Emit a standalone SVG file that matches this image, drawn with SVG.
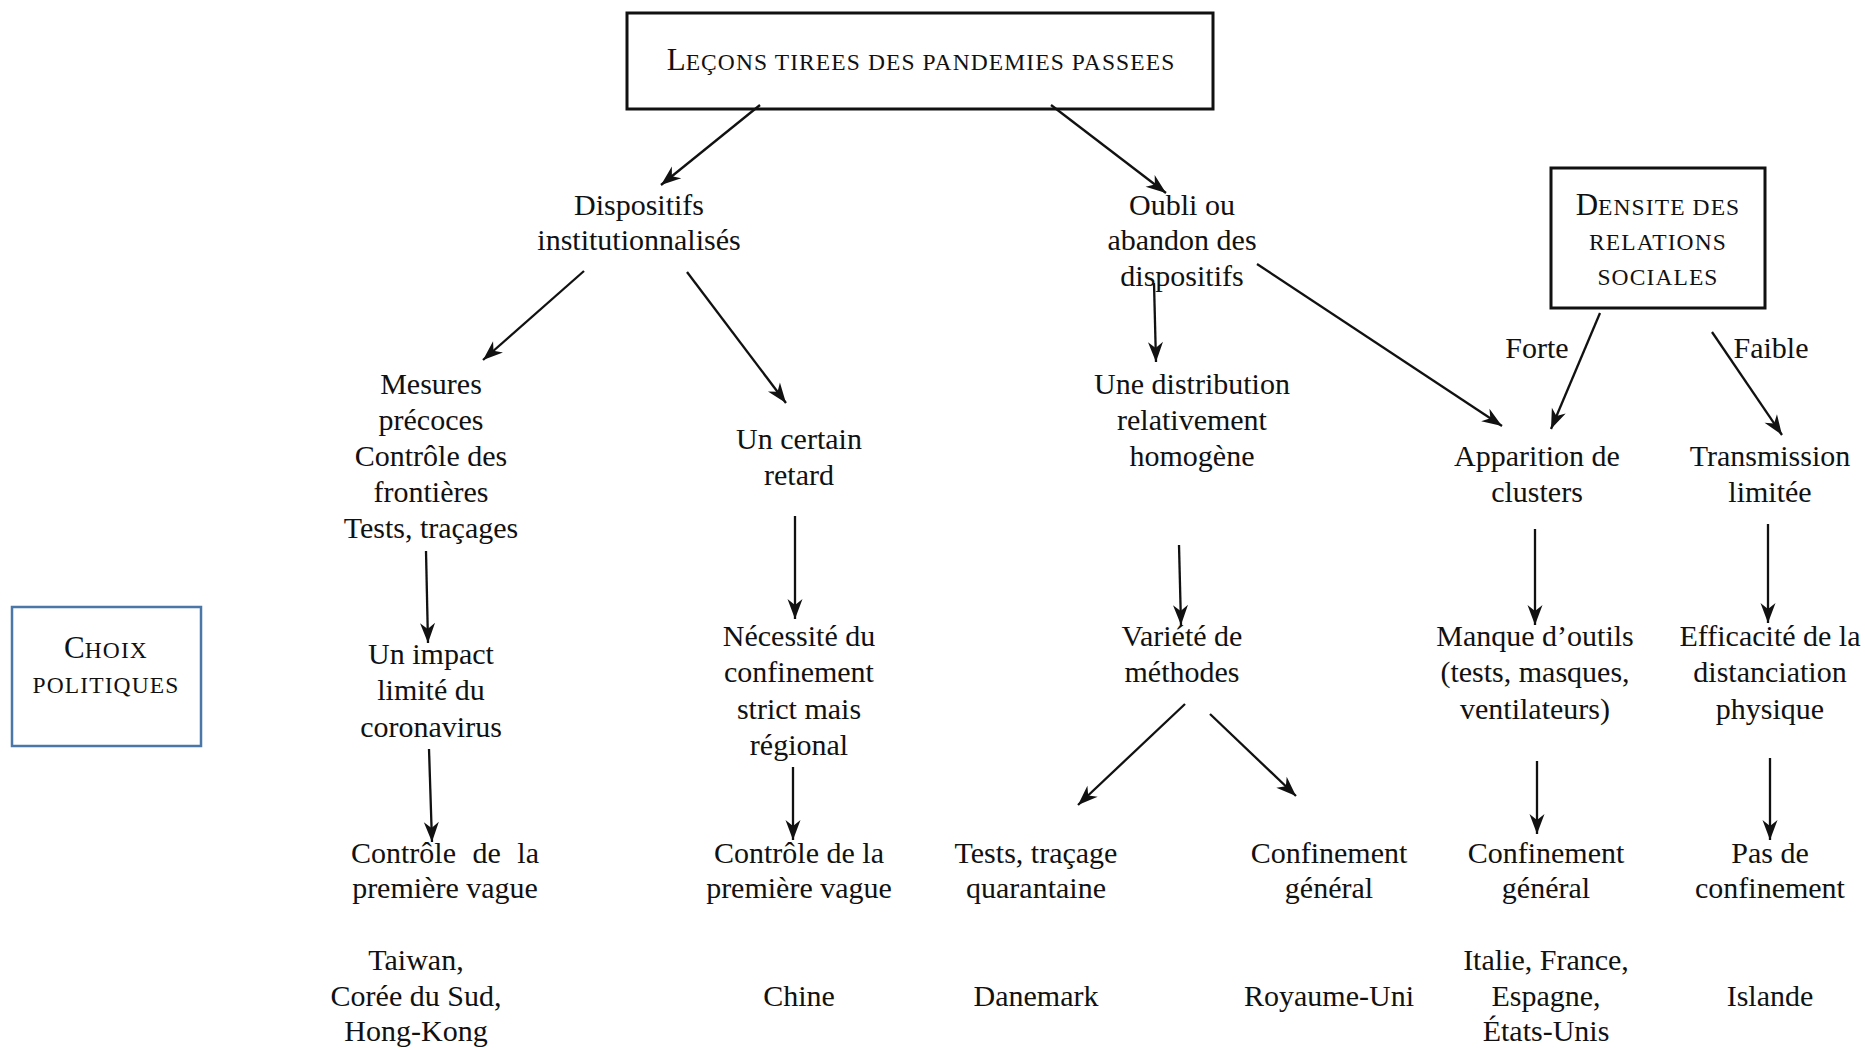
<svg xmlns="http://www.w3.org/2000/svg" width="1865" height="1048" viewBox="0 0 1865 1048">
<style>
text{font-family:"Liberation Serif","Times New Roman",serif;fill:#111;text-anchor:middle}
.t{font-size:30px}
.sc{font-size:23.5px;letter-spacing:1.1px}
.cap{font-size:31px}
.box{fill:#fff;stroke:#111;stroke-width:3}
.bbox{fill:#fff;stroke:#4a76a8;stroke-width:2.5}
.c line{stroke:#111;stroke-width:2.3;marker-end:url(#ah)}
</style>
<defs>
<marker id="ah" markerUnits="userSpaceOnUse" markerWidth="24" markerHeight="18" viewBox="0 -9 21 18" refX="20" refY="0" orient="auto">
<path d="M0,-7.5 L20,0 L0,7.5 L6,0 z" fill="#111"/>
</marker>
</defs>
<rect width="1865" height="1048" fill="#fff"/>

<g id="n-lecons">
<rect class="box" x="627" y="13" width="586" height="96"/>
<text x="921" y="70"><tspan class="cap">L</tspan><tspan class="sc">EÇONS TIREES DES PANDEMIES PASSEES</tspan></text>
</g>
<g id="n-dispositifs"><text class="t" x="639"><tspan x="639" y="215">Dispositifs</tspan><tspan x="639" y="250">institutionnalisés</tspan></text></g>
<g id="n-oubli"><text class="t"><tspan x="1182" y="215">Oubli ou</tspan><tspan x="1182" y="250">abandon des</tspan><tspan x="1182" y="286">dispositifs</tspan></text></g>
<g id="n-densite">
<rect class="box" x="1551" y="168" width="214" height="140"/>
<text><tspan x="1658" y="215"><tspan class="cap">D</tspan><tspan class="sc">ENSITE DES</tspan></tspan><tspan class="sc" x="1658" y="250">RELATIONS</tspan><tspan class="sc" x="1658" y="285">SOCIALES</tspan></text>
</g>
<g id="n-choix">
<rect class="bbox" x="12" y="607" width="189" height="139"/>
<text><tspan x="106" y="658"><tspan class="cap">C</tspan><tspan class="sc">HOIX</tspan></tspan><tspan class="sc" x="106" y="693">POLITIQUES</tspan></text>
</g>
<g id="n-mesures"><text class="t"><tspan x="431" y="394">Mesures</tspan><tspan x="431" y="430">précoces</tspan><tspan x="431" y="466">Contrôle des</tspan><tspan x="431" y="502">frontières</tspan><tspan x="431" y="538">Tests, traçages</tspan></text></g>
<g id="n-retard"><text class="t"><tspan x="799" y="449">Un certain</tspan><tspan x="799" y="485">retard</tspan></text></g>
<g id="n-distribution"><text class="t"><tspan x="1192" y="394">Une distribution</tspan><tspan x="1192" y="430">relativement</tspan><tspan x="1192" y="466">homogène</tspan></text></g>
<g id="n-apparition"><text class="t"><tspan x="1537" y="466">Apparition de</tspan><tspan x="1537" y="502">clusters</tspan></text></g>
<g id="n-transmission"><text class="t"><tspan x="1770" y="466">Transmission</tspan><tspan x="1770" y="502">limitée</tspan></text></g>
<g id="n-impact"><text class="t"><tspan x="431" y="664">Un impact</tspan><tspan x="431" y="700">limité du</tspan><tspan x="431" y="737">coronavirus</tspan></text></g>
<g id="n-necessite"><text class="t"><tspan x="799" y="646">Nécessité du</tspan><tspan x="799" y="682">confinement</tspan><tspan x="799" y="719">strict mais</tspan><tspan x="799" y="755">régional</tspan></text></g>
<g id="n-variete"><text class="t"><tspan x="1182" y="646">Variété de</tspan><tspan x="1182" y="682">méthodes</tspan></text></g>
<g id="n-manque"><text class="t"><tspan x="1535" y="646">Manque d’outils</tspan><tspan x="1535" y="682">(tests, masques,</tspan><tspan x="1535" y="719">ventilateurs)</tspan></text></g>
<g id="n-efficacite"><text class="t"><tspan x="1770" y="646">Efficacité de la</tspan><tspan x="1770" y="682">distanciation</tspan><tspan x="1770" y="719">physique</tspan></text></g>
<g id="n-controle1"><text class="t"><tspan x="445" y="863" word-spacing="9">Contrôle de la</tspan><tspan x="445" y="898">première vague</tspan></text></g>
<g id="n-controle2"><text class="t"><tspan x="799" y="863">Contrôle de la</tspan><tspan x="799" y="898">première vague</tspan></text></g>
<g id="n-tests"><text class="t"><tspan x="1036" y="863">Tests, traçage</tspan><tspan x="1036" y="898">quarantaine</tspan></text></g>
<g id="n-confinement1"><text class="t"><tspan x="1329" y="863">Confinement</tspan><tspan x="1329" y="898">général</tspan></text></g>
<g id="n-confinement2"><text class="t"><tspan x="1546" y="863">Confinement</tspan><tspan x="1546" y="898">général</tspan></text></g>
<g id="n-pasde"><text class="t"><tspan x="1770" y="863">Pas de</tspan><tspan x="1770" y="898">confinement</tspan></text></g>
<g id="n-taiwan"><text class="t"><tspan x="416" y="970">Taiwan,</tspan><tspan x="416" y="1006">Corée du Sud,</tspan><tspan x="416" y="1041">Hong-Kong</tspan></text></g>
<g id="n-chine"><text class="t" x="799" y="1006">Chine</text></g>
<g id="n-danemark"><text class="t" x="1036" y="1006">Danemark</text></g>
<g id="n-royaume"><text class="t" x="1329" y="1006">Royaume-Uni</text></g>
<g id="n-italie"><text class="t"><tspan x="1546" y="970">Italie, France,</tspan><tspan x="1546" y="1006">Espagne,</tspan><tspan x="1546" y="1041">États-Unis</tspan></text></g>
<g id="n-islande"><text class="t" x="1770" y="1006">Islande</text></g>

<g id="connectors" class="c">
<line x1="760" y1="105" x2="661" y2="185"/>
<line x1="1051" y1="105" x2="1166" y2="193"/>
<line x1="584" y1="271" x2="483" y2="360"/>
<line x1="687" y1="272" x2="786" y2="403"/>
<line x1="1154" y1="283" x2="1156" y2="362"/>
<line x1="1257" y1="264" x2="1502" y2="426"/>
<line x1="1600" y1="313" x2="1551" y2="429"/>
<line x1="1712" y1="332" x2="1782" y2="435"/>
<line x1="426" y1="551" x2="428" y2="643"/>
<line x1="429" y1="749" x2="432" y2="842"/>
<line x1="795" y1="516" x2="795" y2="619"/>
<line x1="793" y1="767" x2="793" y2="840"/>
<line x1="1179" y1="545" x2="1181" y2="625"/>
<line x1="1185" y1="704" x2="1078" y2="805"/>
<line x1="1210" y1="714" x2="1296" y2="796"/>
<line x1="1535" y1="529" x2="1535" y2="625"/>
<line x1="1537" y1="761" x2="1537" y2="834"/>
<line x1="1768" y1="524" x2="1768" y2="623"/>
<line x1="1770" y1="758" x2="1770" y2="840"/>
</g>
<g id="labels">
<text class="t" x="1537" y="358">Forte</text>
<text class="t" x="1771" y="358">Faible</text>
</g>
</svg>
